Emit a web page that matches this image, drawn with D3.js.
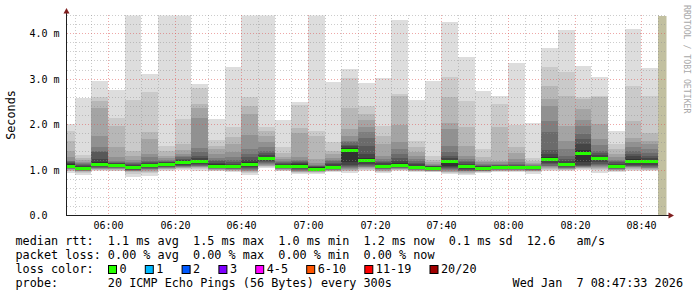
<!DOCTYPE html>
<html>
<head>
	<meta charset="utf-8">
	<title>SmokePing</title>
	<style>
	body { margin: 0; background: #fff; }
	svg text { font-family: 'DejaVu Sans Mono', monospace; white-space: pre; }
	</style>
	<script src="https://cdn.jsdelivr.net/npm/d3@7"></script>
</head>
<body>
<script>

	// 5 minute slots, start time of each
	let slots = ['05:45','05:50','05:55','06:00','06:05','06:10','06:15','06:20','06:25','06:30','06:35','06:40',
		'06:45','06:50','06:55','07:00','07:05','07:10','07:15','07:20','07:25','07:30','07:35','07:40',
		'07:45','07:50','07:55','08:00','08:05','08:10','08:15','08:20','08:25','08:30','08:35','08:40'];

	// median rtt per slot (ms)
	let medians = [1.10,1.04,1.13,1.11,1.06,1.11,1.13,1.17,1.19,1.10,1.08,1.13,
		1.26,1.09,1.10,1.03,1.07,1.45,1.22,1.09,1.12,1.07,1.05,1.20,
		1.08,1.04,1.07,1.07,1.06,1.24,1.13,1.37,1.26,1.09,1.19,1.19];

	// lost pings per slot
	let loss = [0,0,0,0,0,0,0,0,0,0,0,0, 0,0,0,0,0,0,0,0,0,0,0,0, 0,0,0,0,0,0,0,0,0,0,0,0];

	// 20 sorted pings per slot (ms)
	let pings = [
		[0.93,0.97,0.99,1.00,1.02,1.03,1.04,1.05,1.06,1.08, 1.13,1.15,1.17,1.19,1.21,1.28,1.43,1.65,1.85,2.01],
		[0.90,0.94,0.96,0.97,0.98,0.99,1.00,1.01,1.02,1.04, 1.07,1.09,1.11,1.13,1.15,1.18,1.22,1.26,1.33,2.58],
		[0.98,1.00,1.01,1.02,1.03,1.04,1.05,1.06,1.08,1.10, 1.17,1.25,1.40,1.43,1.50,1.76,2.36,2.51,2.61,2.97],
		[0.97,0.99,1.01,1.02,1.03,1.04,1.05,1.06,1.07,1.09, 1.13,1.15,1.16,1.18,1.21,1.28,1.50,1.98,2.14,2.76],
		[0.84,0.92,0.95,0.97,0.98,0.99,1.00,1.01,1.02,1.04, 1.09,1.11,1.13,1.15,1.18,1.23,1.32,1.41,2.54,4.60],
		[0.88,0.93,0.96,0.98,1.00,1.02,1.03,1.04,1.06,1.08, 1.14,1.16,1.18,1.21,1.28,1.35,1.68,1.83,2.71,3.11],
		[0.98,1.00,1.02,1.03,1.04,1.05,1.06,1.07,1.09,1.11, 1.15,1.17,1.18,1.20,1.22,1.26,1.30,1.43,1.54,4.60],
		[1.00,1.02,1.04,1.05,1.06,1.07,1.08,1.10,1.12,1.14, 1.20,1.22,1.24,1.28,1.31,1.36,1.45,1.57,2.12,4.60],
		[0.98,1.03,1.05,1.06,1.07,1.08,1.10,1.12,1.14,1.16, 1.23,1.27,1.32,1.40,1.48,2.15,2.36,2.45,2.80,2.89],
		[0.97,0.99,1.00,1.01,1.02,1.03,1.04,1.05,1.06,1.08, 1.13,1.16,1.19,1.22,1.27,1.35,1.46,1.54,1.66,2.12],
		[0.95,0.97,0.99,1.00,1.01,1.02,1.03,1.04,1.05,1.06, 1.11,1.14,1.18,1.22,1.28,1.39,1.57,1.73,1.94,3.26],
		[0.90,0.93,0.95,0.97,0.99,1.01,1.03,1.05,1.07,1.10, 1.17,1.22,1.28,1.35,1.46,1.78,2.23,2.42,2.61,4.60],
		[1.04,1.06,1.08,1.09,1.11,1.13,1.15,1.17,1.20,1.23, 1.29,1.33,1.37,1.43,1.51,1.61,1.76,1.87,1.94,4.60],
		[0.97,0.99,1.00,1.01,1.02,1.03,1.04,1.05,1.06,1.07, 1.12,1.14,1.16,1.18,1.21,1.24,1.29,1.37,1.50,2.10],
		[0.91,0.93,0.95,0.96,0.97,0.99,1.01,1.03,1.05,1.07, 1.13,1.15,1.17,1.19,1.22,1.29,1.81,1.92,2.44,2.50],
		[0.92,0.94,0.95,0.96,0.97,0.98,0.98,0.99,1.00,1.01, 1.06,1.07,1.08,1.10,1.12,1.15,1.24,1.76,1.87,4.60],
		[0.95,0.97,0.98,0.99,1.00,1.01,1.02,1.03,1.04,1.05, 1.10,1.13,1.16,1.19,1.22,1.27,1.35,1.43,1.61,2.93],
		[0.93,0.97,0.99,1.01,1.03,1.05,1.07,1.09,1.12,1.17, 1.48,1.52,1.56,1.61,1.65,1.75,1.90,2.37,3.03,3.22],
		[0.98,1.01,1.03,1.05,1.06,1.07,1.09,1.11,1.14,1.18, 1.26,1.35,1.54,1.70,1.83,1.95,2.10,2.23,2.42,2.91],
		[0.93,0.96,0.98,0.99,1.00,1.02,1.03,1.04,1.05,1.07, 1.12,1.15,1.17,1.21,1.25,1.32,1.57,1.76,1.98,3.03],
		[0.98,1.00,1.01,1.02,1.03,1.04,1.05,1.06,1.07,1.09, 1.15,1.20,1.26,1.35,1.46,1.61,1.99,2.63,2.67,4.30],
		[0.95,0.97,0.98,0.99,1.00,1.01,1.02,1.03,1.04,1.05, 1.10,1.13,1.16,1.20,1.24,1.30,1.40,1.50,1.65,2.54],
		[0.95,0.96,0.97,0.98,0.99,0.99,1.00,1.01,1.02,1.03, 1.07,1.08,1.09,1.10,1.12,1.14,1.17,1.22,1.32,2.97],
		[0.91,0.93,0.95,0.96,0.98,1.00,1.02,1.04,1.06,1.09, 1.23,1.27,1.32,1.40,1.54,1.90,2.03,2.60,3.04,4.25],
		[0.90,0.92,0.94,0.95,0.97,0.98,0.99,1.01,1.03,1.05, 1.11,1.14,1.17,1.20,1.24,1.32,1.54,1.95,2.51,3.49],
		[0.94,0.95,0.96,0.97,0.98,0.99,0.99,1.00,1.01,1.02, 1.06,1.08,1.09,1.11,1.14,1.17,1.20,1.28,1.46,2.75],
		[0.96,0.97,0.98,0.99,1.00,1.01,1.02,1.03,1.04,1.05, 1.09,1.10,1.11,1.12,1.14,1.17,1.21,1.94,2.45,2.64],
		[0.95,0.97,0.98,0.99,1.00,1.01,1.02,1.03,1.04,1.05, 1.09,1.10,1.12,1.14,1.17,1.24,1.37,1.51,1.99,3.35],
		[0.92,0.95,0.97,0.98,0.99,1.00,1.01,1.02,1.03,1.04, 1.07,1.08,1.09,1.10,1.11,1.13,1.16,1.20,1.26,2.03],
		[0.99,1.01,1.03,1.04,1.06,1.08,1.10,1.13,1.16,1.20, 1.28,1.35,1.44,1.83,2.09,2.42,2.56,2.86,3.27,3.69],
		[0.98,1.00,1.01,1.02,1.03,1.04,1.05,1.06,1.08,1.10, 1.16,1.20,1.24,1.30,1.46,1.65,1.98,2.64,3.15,4.08],
		[1.00,1.02,1.04,1.05,1.06,1.07,1.08,1.10,1.12,1.17, 1.45,1.57,1.68,1.79,1.98,2.10,2.34,2.56,2.61,3.30],
		[0.93,1.01,1.03,1.05,1.07,1.09,1.11,1.14,1.17,1.22, 1.29,1.33,1.38,1.43,1.55,1.68,2.01,2.60,2.64,3.05],
		[0.96,0.98,0.99,1.00,1.01,1.02,1.03,1.04,1.05,1.06, 1.12,1.14,1.17,1.20,1.23,1.28,1.35,1.46,1.57,1.87],
		[0.99,1.01,1.03,1.05,1.06,1.07,1.08,1.10,1.12,1.15, 1.24,1.30,1.36,1.42,1.50,1.61,1.70,2.09,2.86,4.10],
		[0.98,1.00,1.01,1.02,1.04,1.05,1.07,1.09,1.12,1.15, 1.22,1.27,1.32,1.38,1.46,1.57,1.63,1.81,2.64,3.24]
	];

	// slot still being collected
	let pendingSlot = '08:45';

	let yTicks = [0, 1, 2, 3, 4];
	let yTickLabels = ['0.0', '1.0 m', '2.0 m', '3.0 m', '4.0 m'];

	let lossLabels = ['0', '1', '2', '3', '4-5', '6-10', '11-19', '20/20'];
	let lossMax = [0, 1, 2, 3, 5, 10, 19, 20];
	let lossColors = ['#26ff00', '#00b8ff', '#0059ff', '#7e00ff', '#ff00ff', '#ff5500', '#ff0000', '#a00000'];

	let legendLines = [
		'median rtt:  1.1 ms avg  1.5 ms max  1.0 ms min  1.2 ms now  0.1 ms sd  12.6   am/s',
		'packet loss: 0.00 % avg  0.00 % max  0.00 % min  0.00 % now',
		'loss color:',
		'probe:       20 ICMP Echo Pings (56 Bytes) every 300s'
	];
	let stamp = 'Wed Jan  7 08:47:33 2026';
	let watermark = 'RRDTOOL / TOBI OETIKER';

	let day = '2026-01-07 ';
	let parseTime = d3.timeParse('%Y-%m-%d %H:%M:%S');
	let tStart = parseTime(day + '05:47:33');
	let tEnd = parseTime(day + '08:47:33');
	let slotStarts = slots.map(function(s) { return parseTime(day + s + ':00'); });

	let svg = d3.select('body').append('svg')
				.attr('width', 697)
				.attr('height', 297)
				.style('display', 'block')
				.style('background', '#fff');

	let xScale = d3.scaleTime().domain([tStart, tEnd]).range([66.5, 666.5]);
	let yScale = d3.scaleLinear().domain([0, 4.4]).range([215.5, 15.5]);

	svg.append('clipPath').attr('id', 'plotclip')
		.append('rect').attr('x', 67).attr('y', 15.5).attr('width', 599.5).attr('height', 200);

	// smoke colours, outer band lightest
	let smokeGray = d3.range(1, 11).map(function(i) {
		let c = Math.floor(190 / 10 * (10 - i)) + 50;
		return d3.rgb(c, c, c).formatHex();
	});

	function slotX(t) { return Math.round(xScale(t)); }
	function slotW(t) { return slotX(d3.timeMinute.offset(t, 5)) - slotX(t); }

	let plot = svg.append('g').attr('clip-path', 'url(#plotclip)').attr('shape-rendering', 'crispEdges');

	plot.selectAll('g.slot').data(pings).enter().append('g').attr('class', 'slot')
		.each(function(p, s) {
			d3.select(this).selectAll('rect').data(d3.range(10)).enter().append('rect')
				.attr('x', slotX(slotStarts[s]))
				.attr('width', slotW(slotStarts[s]))
				.attr('y', function(i) { return Math.round(yScale(p[19 - i])); })
				.attr('height', function(i) { return Math.round(yScale(p[i])) - Math.round(yScale(p[19 - i])); })
				.attr('fill', function(i) { return smokeGray[i]; });
		});

	// pending slot
	let tPending = parseTime(day + pendingSlot + ':00');
	plot.append('rect')
		.attr('x', slotX(tPending)).attr('width', slotW(tPending))
		.attr('y', yScale(4.4)).attr('height', yScale(0) - yScale(4.4))
		.attr('fill', '#c2c0a0');

	// median line, coloured by loss
	plot.selectAll('rect.median').data(medians).enter().append('rect').attr('class', 'median')
		.attr('x', function(d, s) { return slotX(slotStarts[s]); })
		.attr('width', function(d, s) { return slotW(slotStarts[s]); })
		.attr('y', function(d) { return Math.round(yScale(d)) - 1; })
		.attr('height', 3)
		.attr('fill', function(d, s) {
			let k = lossMax.findIndex(function(m) { return loss[s] <= m; });
			return lossColors[k];
		});

	// grid
	let minorCol = 'rgba(143,143,143,0.45)';
	let majorCol = 'rgba(222,79,79,0.5)';
	let grid = svg.append('g').attr('shape-rendering', 'crispEdges');
	let yMinor = d3.range(1, 23).map(function(i) { return i * 0.2; }).filter(function(v) { return Math.abs(v - Math.round(v)) > 0.01; });
	grid.selectAll('line.hmin').data(yMinor).enter().append('line')
		.attr('x1', 67).attr('x2', 667)
		.attr('y1', function(d) { return Math.floor(yScale(d)) + 0.5; })
		.attr('y2', function(d) { return Math.floor(yScale(d)) + 0.5; })
		.attr('stroke', minorCol).attr('stroke-dasharray', '1,2');
	let xMinor = d3.timeMinute.every(5).range(tStart, tEnd).filter(function(t) { return t.getMinutes() % 20 != 0; });
	let xMajor = d3.timeMinute.every(20).range(tStart, tEnd);
	grid.selectAll('line.vmin').data(xMinor).enter().append('line')
		.attr('x1', function(d) { return Math.round(xScale(d)) + 0.5; })
		.attr('x2', function(d) { return Math.round(xScale(d)) + 0.5; })
		.attr('y1', 15).attr('y2', 215)
		.attr('stroke', minorCol).attr('stroke-dasharray', '1,2');
	grid.selectAll('line.hmaj').data(yTicks.slice(1)).enter().append('line')
		.attr('x1', 67).attr('x2', 667)
		.attr('y1', function(d) { return Math.floor(yScale(d)) + 0.5; })
		.attr('y2', function(d) { return Math.floor(yScale(d)) + 0.5; })
		.attr('stroke', majorCol).attr('stroke-dasharray', '1,2');
	grid.selectAll('line.vmaj').data(xMajor).enter().append('line')
		.attr('x1', function(d) { return Math.round(xScale(d)) + 0.5; })
		.attr('x2', function(d) { return Math.round(xScale(d)) + 0.5; })
		.attr('y1', 15).attr('y2', 215)
		.attr('stroke', majorCol).attr('stroke-dasharray', '1,2');

	// axes
	let axisCol = '#1f1f1f';
	let arrowCol = '#801f1f';
	let axes = svg.append('g');
	axes.append('line').attr('x1', 66.5).attr('x2', 66.5).attr('y1', 216).attr('y2', 11).attr('stroke', axisCol);
	axes.append('line').attr('x1', 66).attr('x2', 670).attr('y1', 215.5).attr('y2', 215.5).attr('stroke', axisCol);
	axes.append('path').attr('d', 'M63.5,13.5L69.5,13.5L66.5,8Z').attr('fill', arrowCol);
	axes.append('path').attr('d', 'M668.5,212.5L668.5,218.5L674,215.5Z').attr('fill', arrowCol);

	axes.selectAll('text.ylab').data(yTicks).enter().append('text')
		.attr('x', 29.5)
		.attr('y', function(d) { return Math.floor(yScale(d)) + 4; })
		.style('font-size', '10px').attr('fill', '#000')
		.text(function(d, i) { return yTickLabels[i]; });

	axes.selectAll('text.xlab').data(xMajor).enter().append('text')
		.attr('x', function(d) { return Math.round(xScale(d)) + 0.5; })
		.attr('y', 228.5)
		.attr('text-anchor', 'middle')
		.style('font-size', '10px').attr('fill', '#000')
		.text(d3.timeFormat('%H:%M'));

	svg.append('text').attr('transform', 'translate(15,115) rotate(-90)')
		.attr('text-anchor', 'middle').style('font-size', '11.8px').attr('fill', '#000')
		.text('Seconds');

	svg.append('text').attr('transform', 'translate(684,5) rotate(90)')
		.style('font-size', '8.2px').attr('fill', '#a8a8a8')
		.text(watermark);

	// legend
	let legend = svg.append('g').style('font-size', '11.8px').attr('fill', '#000');
	legendLines.forEach(function(l, i) {
		legend.append('text').attr('x', 15.5).attr('y', 245 + i * 14).text(l);
	});
	legend.append('text').attr('x', 683).attr('y', 245 + 3 * 14).attr('text-anchor', 'end').text(stamp);

	let lx = 108.5;
	lossLabels.forEach(function(l, i) {
		legend.append('rect').attr('x', lx).attr('y', 265.5).attr('width', 8).attr('height', 8)
			.attr('fill', lossColors[i]).attr('stroke', '#000');
		legend.append('text').attr('x', lx + 11).attr('y', 273).text(l);
		lx = lx + 11.3 + l.length * 7.1 + 18.4;
	});

</script>
</body>
</html>
